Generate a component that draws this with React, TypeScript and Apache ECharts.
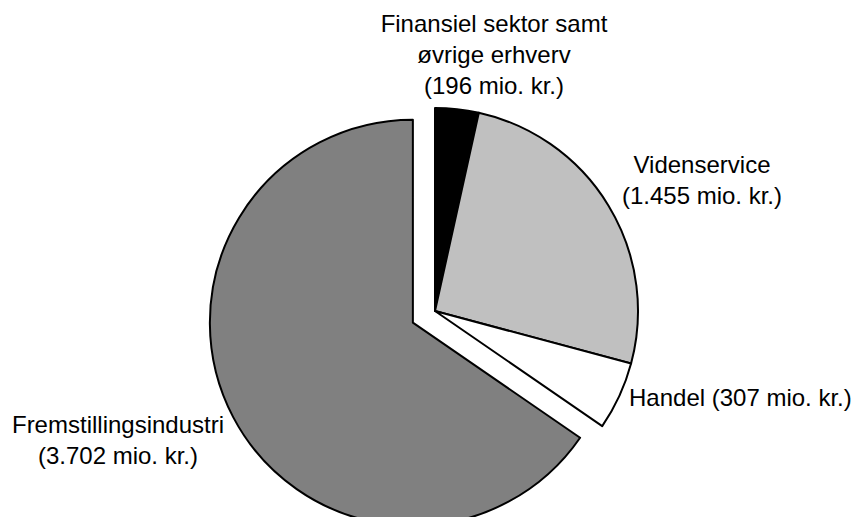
import React, { useEffect, useRef } from "react";
import * as echarts from "echarts";

const categories = [
  "Finansiel sektor samt\nøvrige erhverv\n(196 mio. kr.)",
  "Videnservice\n(1.455 mio. kr.)",
  "Handel (307 mio. kr.)",
  "Fremstillingsindustri\n(3.702 mio. kr.)",
];
const values = [196, 1455, 307, 3702];
const colors = ["#000000", "#c0c0c0", "#ffffff", "#808080"];
const selectedFlags = [false, false, false, true];

const FONT = "'Liberation Sans', Arial, sans-serif";

export default function App() {
  const ref = useRef<HTMLDivElement>(null);
  useEffect(() => {
    if (!ref.current) return;
    const chart = echarts.init(ref.current, null, { renderer: "svg" });
    const labelPos = [
      { x: 494, y: 54, align: "center" },
      { x: 702, y: 180, align: "center" },
      { x: 629, y: 397, align: "left" },
      { x: 118, y: 440, align: "center" },
    ];
    chart.setOption({
      animation: false,
      backgroundColor: "#ffffff",
      graphic: [
        {
          type: "text",
          x: labelPos[3].x,
          y: labelPos[3].y,
          style: {
            text: categories[3],
            fill: "#000000",
            fontFamily: FONT,
            fontSize: 24,
            lineHeight: 31,
            align: "center",
            verticalAlign: "middle",
          },
        },
      ],
      series: [
        {
          type: "pie",
          center: [435, 311],
          radius: [0, 203],
          startAngle: 90,
          clockwise: true,
          selectedMode: "single",
          selectedOffset: 25,
          avoidLabelOverlap: false,
          itemStyle: { borderColor: "#000000", borderWidth: 2 },
          emphasis: { disabled: true },
          label: {
            show: true,
            position: "outside",
            color: "#000000",
            fontFamily: FONT,
            fontSize: 24,
            lineHeight: 31,
            formatter: (p: any) => p.name,
          },
          labelLine: { show: false },
          labelLayout: (params: any) => {
            const lp = labelPos[params.dataIndex];
            return { x: lp.x, y: lp.y, align: lp.align, verticalAlign: "middle" };
          },
          data: categories.map((name, i) => ({
            name,
            value: values[i],
            selected: selectedFlags[i],
            itemStyle: { color: colors[i] },
            select: { itemStyle: { color: colors[i], borderColor: "#000000", borderWidth: 2 } },
            label: { show: !selectedFlags[i], align: labelPos[i].align as any },
          })),
        },
      ],
    });
    return () => chart.dispose();
  }, []);
  return (
    <div
      ref={ref}
      style={{ position: "fixed", left: 0, top: 0, width: 857, height: 517 }}
    />
  );
}
